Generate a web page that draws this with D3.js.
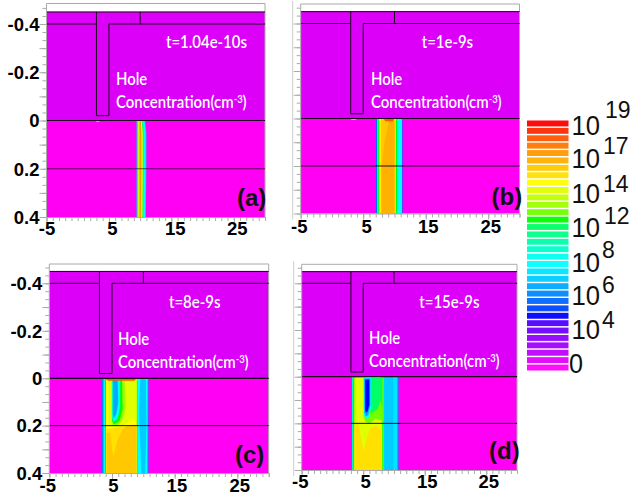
<!DOCTYPE html>
<html><head><meta charset="utf-8">
<script src="https://cdn.jsdelivr.net/npm/d3@7"></script>
<style>html,body{margin:0;padding:0;background:#fff}svg{display:block}</style></head>
<body><svg id="c" width="631" height="498"></svg>
<script>
const legendColors=["#ff00ff","#e000ff","#c000ff","#a000ff","#9000ff","#7000ff","#5000ff","#0000ff","#0044ff","#0066ff","#0088ff","#00aaff","#00ccff","#00e5ff","#00ffff","#00ffee","#00ffcc","#00ffaa","#00ff88","#00ff66","#00ff00","#70ff00","#9fff00","#bfff00","#e0ff00","#ffff00","#ffe000","#ffc800","#ffb000","#ff9900","#ff7700","#ff5500","#ff2a00","#ff0000"];
const legendBase=["10","10","10","10","10","10","10","0"];
const legendExp=["19","17","14","12","8","6","4",""];
const xMajor=[-5,5,15,25];
const yLabels=[-0.4,-0.2,0,0.2,0.4];
const times=["t=1.04e-10s","t=1e-9s","t=8e-9s","t=15e-9s"];
const panelTags=["(a)","(b)","(c)","(d)"];
const gateOutline=[[-5,-0.4],[3,-0.4],[3,-0.02],[5,-0.02],[5,-0.4],[30,-0.4]];
const gateTop=[[3,-0.45],[3,-0.4]];
const drainMark=[[10,-0.45],[10,-0.4]];
// contour regions: [legend level, outline], painted outer to inner
const regionsA=[
 [14,[[3,0],[3.6,0],[3.4,0.006],[3.1,0.006],[2.9,0.004]]],
 [12,[[9.42,0],[10.8,0],[11.0,0.05],[11.0,0.2],[10.9,0.4],[9.42,0.4]]],
 [14,[[9.5,0],[10.7,0],[10.85,0.05],[10.85,0.2],[10.8,0.4],[9.5,0.4]]],
 [19,[[9.6,0],[10.4,0],[10.55,0.05],[10.55,0.2],[10.5,0.4],[9.6,0.4]]],
 [25,[[9.7,0],[10.25,0],[10.4,0.05],[10.4,0.2],[10.35,0.4],[9.7,0.4]]],
 [29,[[9.88,0],[10.1,0],[10.22,0.05],[10.22,0.2],[10.18,0.4],[9.88,0.4]]]
];
const regionsB=[
 [14,[[3,0],[4,0],[3.8,0.006],[3.3,0.006],[3,0.004]]],
 [9,[[7.05,0],[11.3,0],[11.3,0.4],[7.05,0.4]]],
 [14,[[7.22,0],[11.2,0],[11.2,0.4],[7.22,0.4]]],
 [20,[[7.4,0],[10.4,0],[10.4,0.4],[7.4,0.4]]],
 [25,[[7.55,0],[10.2,0],[10.2,0.4],[7.55,0.4]]],
 [27,[[7.8,0],[10.05,0],[10.05,0.4],[7.8,0.4]]],
 [28,[[9.1,0.012],[10.0,0.012],[10.0,0.4],[7.95,0.4],[7.95,0.2],[8.4,0.1]]],
 [31,[[8.3,0],[9.95,0],[9.8,0.012],[8.5,0.012]]]
];
const regionsC=[
 [10,[[3.42,0],[10.82,0],[10.82,0.4],[3.42,0.4]]],
 [14,[[3.65,0],[10.7,0],[10.66,0.4],[3.65,0.4]]],
 [12,[[9.5,0],[10.4,0],[10.5,0.2],[10.3,0.4],[9.7,0.4],[9.3,0.15]]],
 [20,[[3.87,0],[9.05,0],[9.05,0.4],[3.87,0.4]]],
 [25,[[4.05,0],[8.95,0],[8.95,0.4],[4.05,0.4]]],
 [24,[[4.4,0.01],[8.85,0.01],[8.85,0.18],[8,0.17],[6.8,0.2],[5.6,0.21],[4.4,0.2]]],
 [22,[[4.9,0.005],[7.0,0.005],[7.2,0.12],[6.8,0.17],[5.8,0.2],[5.1,0.2],[4.9,0.15]]],
 [20,[[5.0,0.005],[6.6,0.005],[6.7,0.13],[6.2,0.18],[5.3,0.195],[5.0,0.18]]],
 [14,[[5.05,0.005],[6.3,0.005],[6.3,0.12],[5.9,0.17],[5.2,0.185],[5.05,0.17]]],
 [11,[[5.15,0.007],[5.9,0.007],[6,0.1],[5.7,0.15],[5.3,0.17],[5.15,0.15]]],
 [26,[[4.1,0.215],[8.9,0.195],[8.9,0.26],[5.25,0.36]]],
 [27,[[4.1,0.4],[4.1,0.23],[4.7,0.23],[5.0,0.3],[5.25,0.33],[5.9,0.26],[6.7,0.215],[7.6,0.2],[8.9,0.2],[8.9,0.4]]],
 [31,[[3.75,0],[9,0],[8.6,0.01],[4.4,0.01]]]
];
const regionsD=[
 [10,[[3.05,0],[10.75,0],[10.75,0.4],[3.05,0.4]]],
 [12,[[8.3,0],[10.6,0],[10.6,0.4],[8.3,0.4]]],
 [13,[[9.9,0],[10.5,0],[10.5,0.4],[9.9,0.4]]],
 [14,[[3.2,0],[8.4,0],[8.4,0.4],[3.2,0.4]]],
 [20,[[3.3,0],[8.25,0],[8.25,0.4],[3.3,0.4]]],
 [24,[[3.55,0.005],[8.1,0.005],[8.1,0.4],[3.55,0.4]]],
 [21,[[5.05,0.005],[8.2,0.005],[8.2,0.19],[7,0.18],[6.1,0.2],[5.4,0.195],[5.1,0.17]]],
 [19,[[6.2,0.005],[8.1,0.005],[8.1,0.14],[7.85,0.1],[7.3,0.14],[6.6,0.15],[6.2,0.16]]],
 [14,[[5.1,0.005],[6.3,0.005],[6.3,0.13],[5.9,0.175],[5.4,0.18],[5.1,0.165]]],
 [11,[[5.15,0.008],[6.15,0.008],[6.15,0.12],[5.8,0.165],[5.4,0.17],[5.2,0.155]]],
 [7,[[5.3,0.012],[6.0,0.012],[6.0,0.12],[5.7,0.15],[5.4,0.155],[5.3,0.14]]],
 [26,[[3.55,0.4],[3.55,0.21],[4.2,0.2],[4.7,0.27],[5.1,0.32],[5.5,0.27],[6.2,0.22],[7.0,0.21],[8.0,0.23],[8.05,0.4]]],
 [27,[[3.55,0],[8,0],[7.8,0.006],[3.9,0.006]]]
];
const allRegions=[regionsA,regionsB,regionsC,regionsD];

// panel layout in pixels
const layout=[
 {l:46.5,r:265,top:3.5,y0:120.5,y4:217,yNeg:24,labels:true,dx:[0,3,3.5,3],xb:235,tx:166,hx:116,tb:48,hb:85,cb:108,tagx:237,tagb:206},
 {l:300.7,r:519.5,top:4,y0:118.5,y4:213.5,yNeg:23.5,labels:false,dx:[-2,3,2,2],xb:233,tx:421.7,hx:371,tb:48,hb:85,cb:108,tagx:491.5,tagb:205},
 {l:49.3,r:268.7,top:264,y0:378.3,y4:473,yNeg:283.3,labels:true,dx:[-2,1,1.7,2],xb:491.5,tx:169,hx:118,tb:308,hb:345,cb:368,tagx:235,tagb:463},
 {l:301.7,r:517,top:264.3,y0:376.7,y4:470,yNeg:283.3,labels:false,dx:[-2,2,2,2],xb:488,tx:419.3,hx:369,tb:308,hb:344,cb:367,tagx:489,tagb:459}
];
const svg=d3.select("#c");
const defs=svg.append("defs");
defs.append("filter").attr("id","soft").attr("x","-5%").attr("y","-5%").attr("width","110%").attr("height","110%")
  .append("feGaussianBlur").attr("stdDeviation",0.55);
const UPPER="#dc00f8",LOWER="#ff00f4",GREY="#aaaaaa";
const lineGen=d3.line();
layout.forEach((p,i)=>{
  const g=svg.append("g");
  const x=d3.scaleLinear().domain([-5,30]).range([p.l,p.r]);
  const y=d3.scaleLinear().domain([-0.4,0,0.4]).range([p.yNeg,p.y0,p.y4]);
  const toPx=pts=>pts.map(d=>[x(d[0]),y(d[1])]);
  const clipId="clip"+i;
  defs.append("clipPath").attr("id",clipId).append("rect").attr("x",p.l).attr("y",y(0)).attr("width",p.r-p.l).attr("height",y(0.4)-y(0));
  g.append("rect").attr("x",p.l).attr("y",y(-0.45)).attr("width",p.r-p.l).attr("height",y(0)-y(-0.45)).attr("fill",UPPER);
  g.append("rect").attr("x",p.l).attr("y",y(0)).attr("width",p.r-p.l).attr("height",y(0.4)-y(0)).attr("fill",LOWER);
  g.append("g").attr("clip-path",`url(#${clipId})`).append("g").attr("filter","url(#soft)")
    .selectAll("path").data(allRegions[i]).join("path")
    .attr("d",d=>lineGen(toPx(d[1]))+"Z").attr("fill",d=>legendColors[d[0]]);
  g.append("path").attr("d",`M${p.l},${p.top}H${p.r}V${y(0.4)}`).attr("fill","none").attr("stroke",GREY).attr("stroke-width",1);
  if(!p.labels) g.append("path").attr("d",`M${p.l-8},${p.top-3}V${y(0.4)+6}`).attr("fill","none").attr("stroke","#cccccc");
  const s=g.append("g").attr("fill","none").attr("stroke","#1a001a").attr("stroke-width",1);
  s.append("path").attr("d",lineGen(toPx([[-5,-0.45],[30,-0.45]])));
  s.append("path").attr("d",lineGen(toPx(gateOutline)));
  s.append("path").attr("d",lineGen(toPx(gateTop)));
  s.append("path").attr("d",lineGen(toPx(drainMark)));
  s.append("path").attr("d",lineGen(toPx([[-5,0],[30,0]]))).attr("stroke-width",1.2);
  s.append("path").attr("d",lineGen(toPx([[-5,0.2],[30,0.2]]))).attr("stroke-opacity",i==0?0.65:0.95);
  const style=a=>{a.select(".domain").attr("stroke",GREY);a.selectAll("line").attr("stroke",GREY)};
  const yMinor=d3.range(-14,13).map(k=>k/30);
  const xMinor=d3.range(-5,31);
  const yAxisMinor=g.append("g").attr("transform",`translate(${p.l},0)`).call(d3.axisLeft(y).tickValues(yMinor).tickSize(4).tickFormat(""));
  style(yAxisMinor);yAxisMinor.select(".domain").remove();
  const yMajor=g.append("g").attr("transform",`translate(${p.l},0)`).call(d3.axisLeft(y).tickValues([-0.4,-0.3,-0.2,-0.1,0,0.1,0.2,0.3,0.4]).tickSize(7).tickFormat(d=>(p.labels&&yLabels.some(v=>Math.abs(v-d)<1e-9))?String(d):""));
  yMajor.select(".domain").attr("d",`M0,${p.top}V${y(0.4)}`);
  style(yMajor);
  yMajor.selectAll("text").attr("x",-7).attr("dy","0.34em").attr("fill","#000").style("font","bold 18.5px 'Liberation Sans'");
  const xAxisMinor=g.append("g").attr("transform",`translate(0,${y(0.4)})`).call(d3.axisBottom(x).tickValues(xMinor).tickSize(4).tickFormat(""));
  style(xAxisMinor);
  const xAxis=g.append("g").attr("transform",`translate(0,${y(0.4)})`).call(d3.axisBottom(x).tickValues(xMajor).tickSize(6).tickFormat(String));
  style(xAxis);xAxis.select(".domain").remove();
  xAxis.selectAll("text").attr("y",p.xb-y(0.4)).attr("dy",0).attr("dx",(d,j)=>p.dx[j]).attr("fill","#000").style("font","bold 18.5px 'Liberation Sans'");
  const txt=(t,tx,ty)=>g.append("text").attr("transform",`translate(${tx},${ty}) scale(0.9,1)`).attr("fill","#fff").style("font","600 16.6px Lato").text(t);
  txt(times[i],p.tx,p.tb);
  txt("Hole",p.hx,p.hb);
  const c=txt("Concentration(cm",p.hx,p.cb);
  c.append("tspan").attr("dy",-5).style("font-size","10.5px").text("-3");
  c.append("tspan").attr("dy",5).text(")");
  g.append("text").attr("x",p.tagx).attr("y",p.tagb).attr("fill","#111").style("font","bold 24px 'Liberation Sans'").text(panelTags[i]);
});
const lg=svg.append("g");
const ly=d3.scaleBand().domain(d3.range(legendColors.length)).range([370.5,120.5]).paddingInner(0.2);
lg.selectAll("rect").data(legendColors).join("rect")
  .attr("x",527).attr("width",41.5).attr("y",(d,i)=>ly(i)).attr("height",ly.bandwidth()).attr("fill",d=>d).attr("opacity",0.95);
const baseY=[135,168.3,202.7,237.3,271.7,305,339.3,372.7];
const expY=[117.7,154,192,224,258,293,328,0];
const expX=[605,603,603,604,602,602,602,0];
legendBase.forEach((t,i)=>{
  lg.append("text").attr("x",i==7?569:571.5).attr("y",baseY[i]).attr("fill","#111")
    .attr("textLength",i==7?14:28.5).attr("lengthAdjust","spacingAndGlyphs").style("font","27px 'Liberation Sans'").text(t);
  if(legendExp[i]) lg.append("text").attr("x",expX[i]).attr("y",expY[i]).attr("fill","#111").style("font","23px 'Liberation Sans'").text(legendExp[i]);
});
</script></body></html>
